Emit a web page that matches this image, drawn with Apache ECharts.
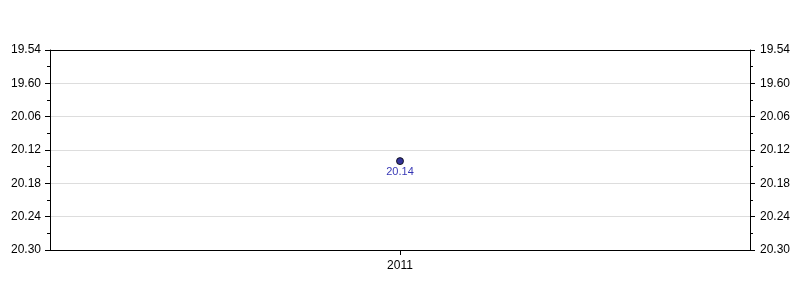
<!DOCTYPE html>
<html><head><meta charset="utf-8">
<script src="https://cdn.jsdelivr.net/npm/echarts@6/dist/echarts.min.js"></script>
<style>html,body{margin:0;padding:0;background:#fff}#c{width:800px;height:300px}</style>
</head><body><div id="c"></div>
<script>
// Data (times as minutes.seconds, stored in seconds for the scale)
const categories = ['2011'];
const seriesValues = [1214]; // 20.14 -> 20 min 14 s
const seriesLabels = ['20.14'];
const tickLabels = ['19.54', '19.60', '20.06', '20.12', '20.18', '20.24', '20.30'];
const yMin = 1194, yMax = 1230, yStep = 6;

const chart = echarts.init(document.getElementById('c'), null, {renderer: 'canvas'});
const fontFamily = '"Liberation Sans", Arial, sans-serif';
function yAxisDef(pos) {
  return {
    type: 'value', position: pos, inverse: true,
    min: yMin, max: yMax, interval: yStep,
    axisLine: {show: true, lineStyle: {color: '#000', width: 1}},
    axisTick: {show: true, inside: false, length: 5, lineStyle: {color: '#000'}},
    minorTick: {show: true, splitNumber: 2, length: 3, lineStyle: {color: '#000'}},
    splitLine: {show: pos === 'left', lineStyle: {color: '#dddddd'}},
    axisLabel: {
      color: '#000', fontSize: 12, fontFamily, margin: pos === 'left' ? 9 : 10,
      formatter: v => tickLabels[Math.round((v - yMin) / yStep)]
    },
    z: 5
  };
}
chart.setOption({
  animation: false,
  grid: {left: 50, right: 50, top: 50, bottom: 50, show: false},
  xAxis: [{
    type: 'category', data: categories, boundaryGap: true, position: 'bottom',
    axisLine: {show: true, lineStyle: {color: '#000'}},
    axisTick: {show: true, alignWithLabel: true, length: 5, lineStyle: {color: '#000'}},
    axisLabel: {color: '#000', fontSize: 12, fontFamily, margin: 10},
    splitLine: {show: false}, z: 10
  }, {
    type: 'category', data: categories, position: 'top',
    axisLine: {show: true, lineStyle: {color: '#000'}},
    axisTick: {show: false}, axisLabel: {show: false}, splitLine: {show: false}, z: 10
  }],
  yAxis: [yAxisDef('left'), yAxisDef('right')],
  series: [{
    type: 'scatter', yAxisIndex: 0, xAxisIndex: 0,
    data: seriesValues,
    symbol: 'circle', symbolSize: 7,
    itemStyle: {color: '#000080', borderColor: '#000', borderWidth: 1},
    label: {
      show: true, position: 'bottom', distance: 1,
      color: '#0000a0', fontSize: 11, fontFamily,
      formatter: p => seriesLabels[p.dataIndex]
    }
  }]
});
</script></body></html>
